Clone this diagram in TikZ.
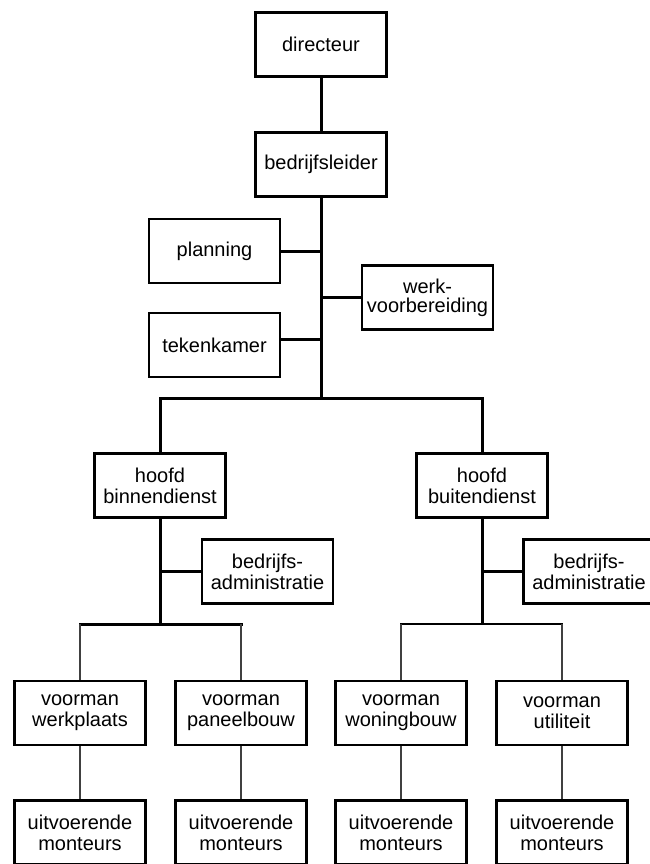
\documentclass[tikz,border=0pt]{standalone}
\usepackage{fontspec}
\setmainfont{Liberation Sans}
\usetikzlibrary{positioning}

\begin{document}
\begin{tikzpicture}[x=1pt,y=-1pt,
  box/.style={draw,line width=2.8pt,minimum width=131pt,minimum height=64pt,inner sep=2pt,
    align=center,font=\fontsize{20}{20.7}\selectfont},
  conn/.style={line width=3pt},
  twig/.style={line width=1.8pt,black!75}]
  \useasboundingbox (0,0) rectangle (650,864);
  \node[box] (dir) at (321,44.5) {directeur};
  \node[box] (bl) at (321,164.5) {bedrijfsleider};
  \node[box] (plan) at (214.5,251) {planning};
  \node[box,font=\fontsize{20}{19}\selectfont] (wvb) at (427.5,297.5) {werk-\\voorbereiding};
  \node[box] (tek) at (214.5,345) {tekenkamer};
  \coordinate (bar) at (321,398);
  \draw[conn] (dir) -- (bl);
  \draw[conn] (bl) -- (bar);
  \draw[conn] (plan.east) -- (plan.east -| bl);
  \draw[conn] (wvb.west) -- (wvb.west -| bl);
  \draw[conn] ([yshift=6pt]tek.east) -- ([yshift=6pt]tek.east -| bl);
  \node[box] (hbi) at (160,485.5) {hoofd\\binnendienst};
  \node[box] (hbu) at (482,485.5) {hoofd\\buitendienst};
  \draw[conn] (hbi.north) |- (bar) -| (hbu.north);
  \node[box] (adm1) at (267.5,571.5) {bedrijfs-\\administratie};
  \node[box] (adm2) at (589,571.5) {bedrijfs-\\administratie};
  \coordinate (lbar) at (160,624);
  \coordinate (rbar) at (482,624);
  \draw[conn] (hbi) -- (lbar);
  \draw[conn] (hbu) -- (rbar);
  \draw[conn] (adm1.west) -- (adm1.west -| hbi);
  \draw[conn] (adm2.west) -- (adm2.west -| hbu);
  \node[box] (vwp) at (80,713) {voorman\\werkplaats};
  \node[box] (vpb) at (241,713) {voorman\\paneelbouw};
  \node[box] (vwb) at (401,713) {voorman\\woningbouw};
  \node[box] (vut) at (562,713) {voorman\\utiliteit};
  \draw[conn,line cap=rect] (vwp |- lbar) -- (vpb |- lbar);
  \draw[conn,line width=2.3pt,line cap=rect] (vwb |- rbar) -- (vut |- rbar);
  \foreach \v in {vwp,vpb,vwb,vut}{
    \node[box] (m\v) at (\v |- 0,832.5) {uitvoerende\\monteurs};
    \draw[twig] (\v.north |- lbar) -- (\v.north);
    \draw[twig] (\v) -- (m\v);
  }
\end{tikzpicture}
\end{document}
